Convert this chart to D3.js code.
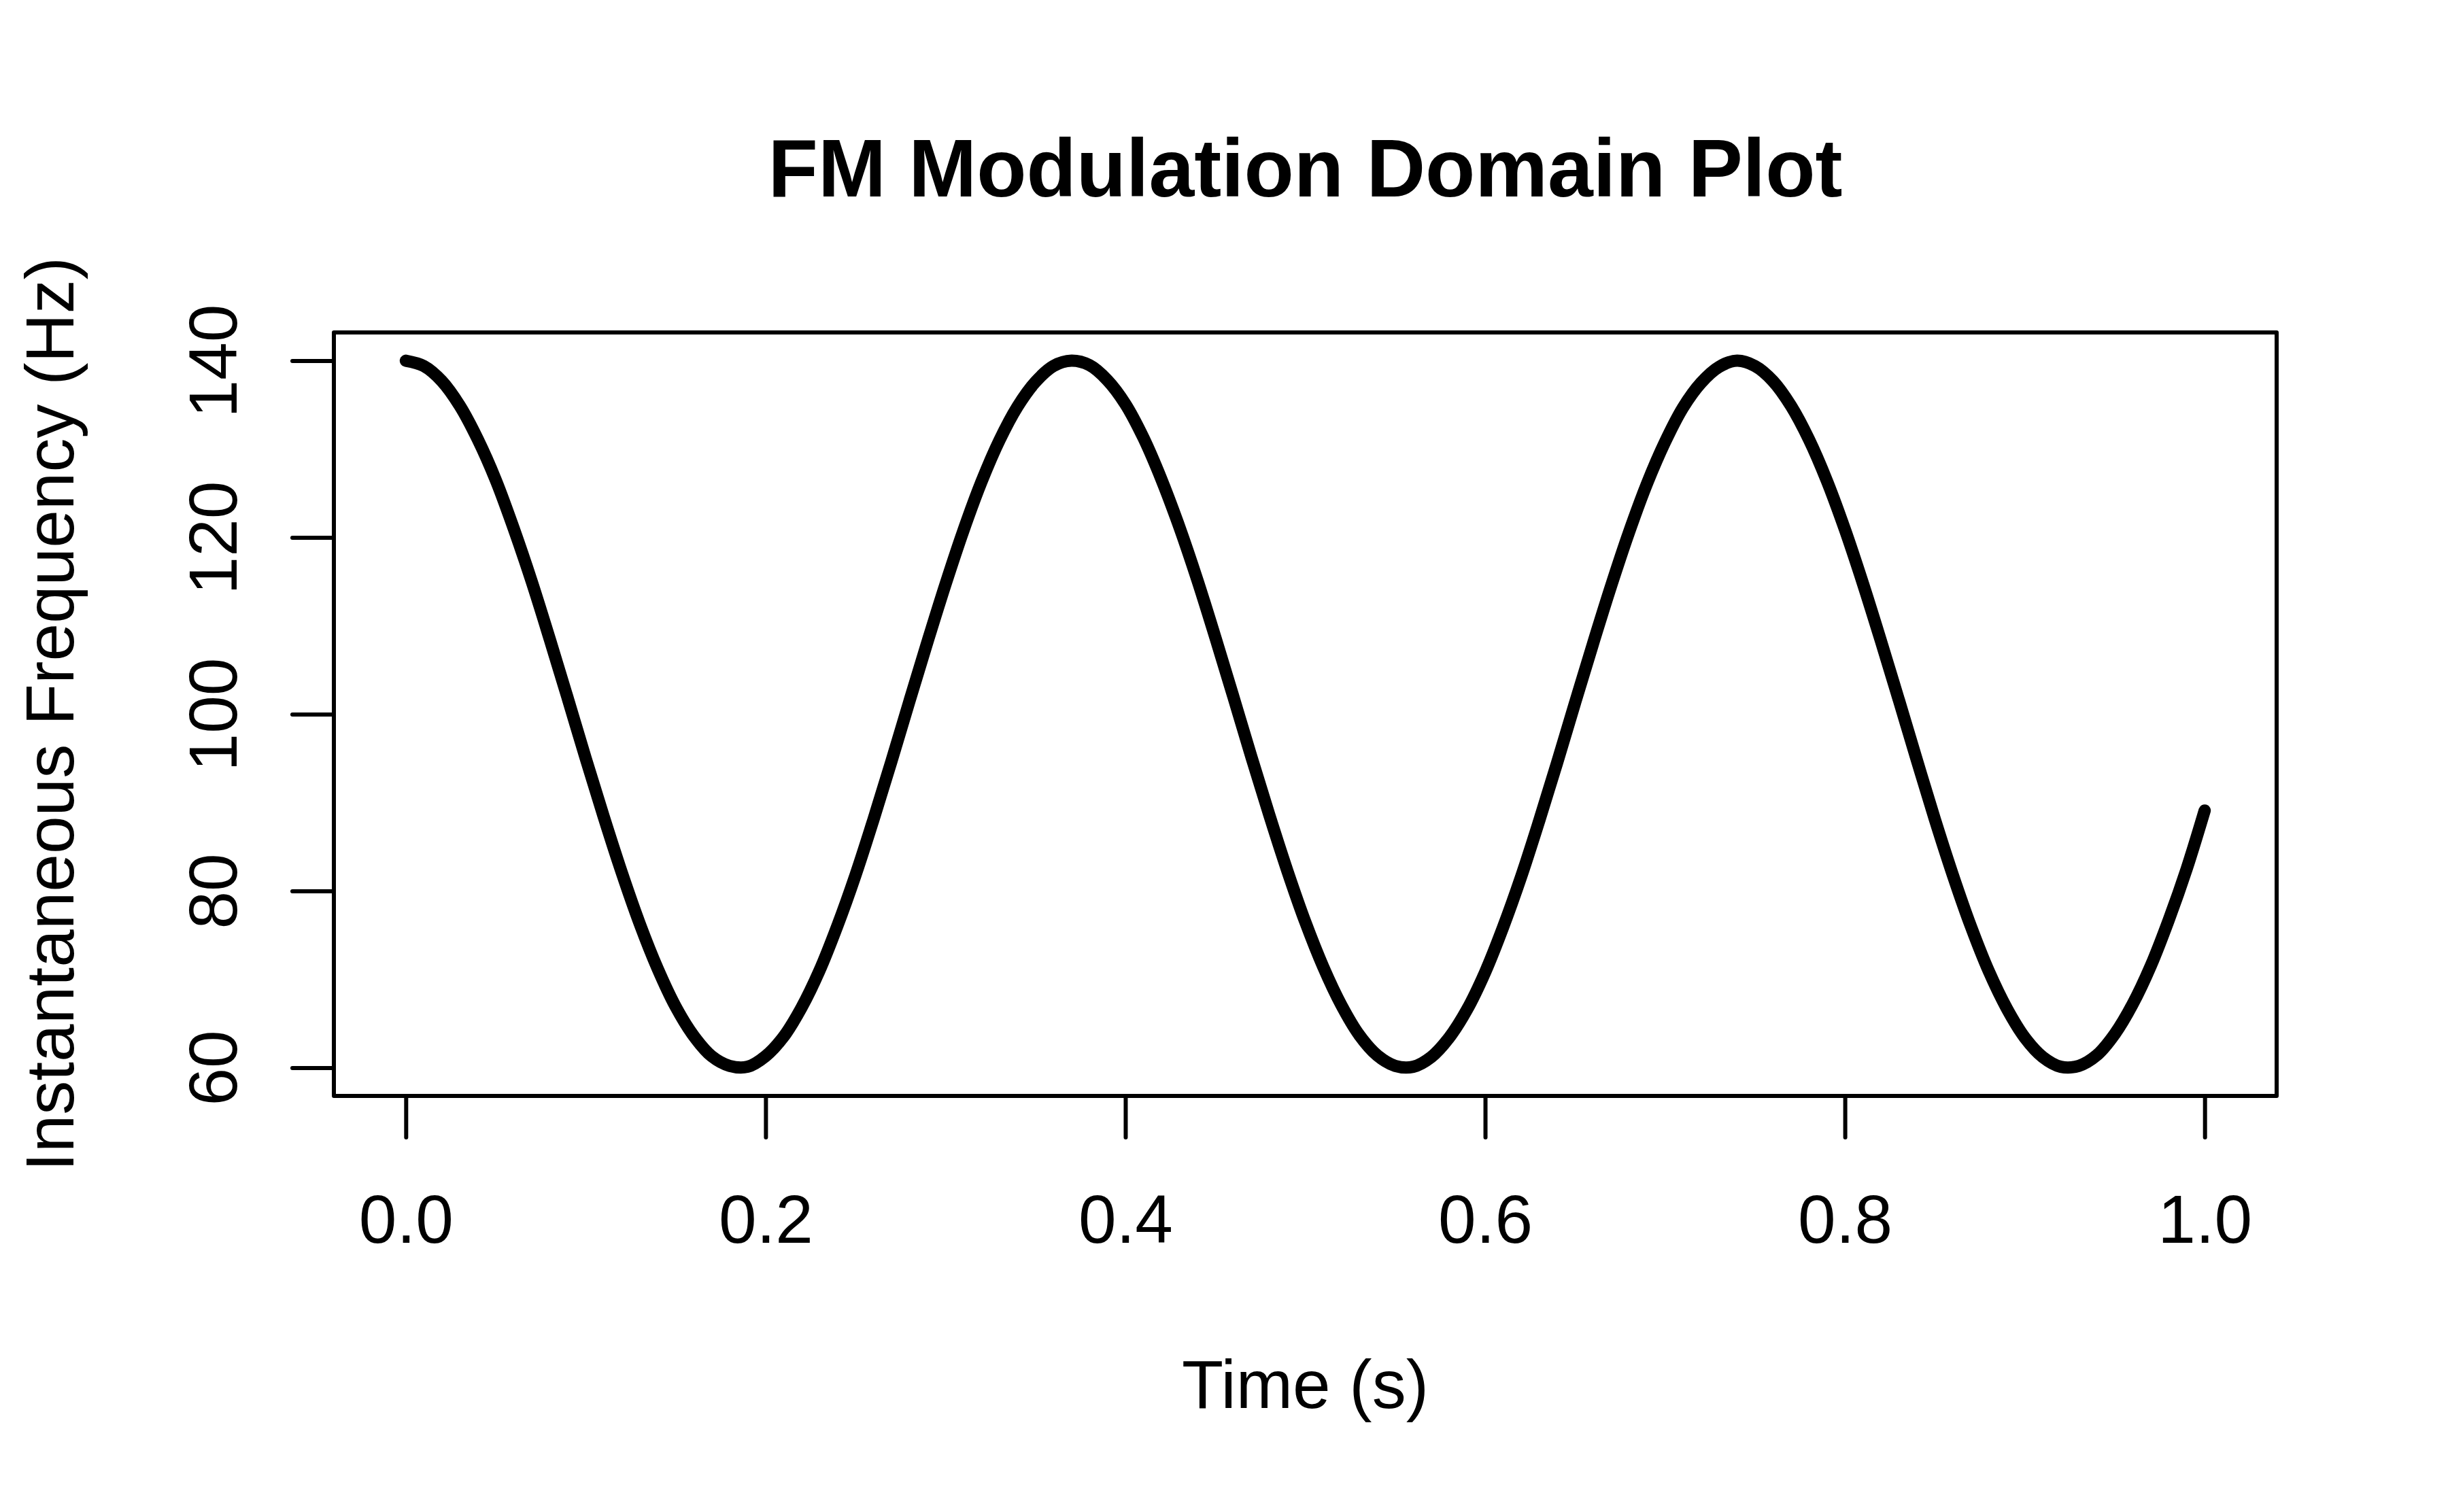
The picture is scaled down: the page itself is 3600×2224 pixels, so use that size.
<!DOCTYPE html>
<html>
<head>
<meta charset="utf-8">
<script src="https://cdn.jsdelivr.net/npm/d3@7"></script>
<style>
  html, body { margin: 0; padding: 0; background: #fff; }
  svg { display: block; }
  text { font-family: "Liberation Sans", Arial, sans-serif; fill: #000; }
</style>
</head>
<body>
<svg id="chart" width="3600" height="2224"></svg>
<script>
// ---- data ----
const times = [
  0.00,0.01,0.02,0.03,0.04,0.05,0.06,0.07,0.08,0.09,
  0.10,0.11,0.12,0.13,0.14,0.15,0.16,0.17,0.18,0.19,
  0.20,0.21,0.22,0.23,0.24,0.25,0.26,0.27,0.28,0.29,
  0.30,0.31,0.32,0.33,0.34,0.35,0.36,0.37,0.38,0.39,
  0.40,0.41,0.42,0.43,0.44,0.45,0.46,0.47,0.48,0.49,
  0.50,0.51,0.52,0.53,0.54,0.55,0.56,0.57,0.58,0.59,
  0.60,0.61,0.62,0.63,0.64,0.65,0.66,0.67,0.68,0.69,
  0.70,0.71,0.72,0.73,0.74,0.75,0.76,0.77,0.78,0.79,
  0.80,0.81,0.82,0.83,0.84,0.85,0.86,0.87,0.88,0.89,
  0.90,0.91,0.92,0.93,0.94,0.95,0.96,0.97,0.98,0.99,
  1.00
];
const frequency = [
  140.0,139.4,137.7,134.9,131.1,126.5,121.0,115.0,108.5,101.8,
  95.0,88.4,82.1,76.3,71.2,66.9,63.6,61.3,60.2,60.1,
  61.3,63.5,66.8,71.0,76.1,81.8,88.1,94.7,101.5,108.2,
  114.7,120.8,126.3,131.0,134.8,137.6,139.4,140.0,139.5,137.8,
  135.1,131.3,126.6,121.2,115.2,108.7,102.0,95.2,88.6,82.3,
  76.5,71.4,67.1,63.7,61.4,60.2,60.1,61.2,63.4,66.6,
  70.8,75.9,81.6,87.9,94.5,101.3,108.0,114.5,120.6,126.1,
  130.8,134.7,137.5,139.3,140.0,139.4,137.7,134.9,131.1,126.4,
  120.9,114.8,108.3,101.6,94.8,88.1,81.8,76.0,70.9,66.7,
  63.4,61.2,60.1,60.2,61.4,63.8,67.2,71.5,76.7,82.5,
  89.1
];
const xTicks = [0.0, 0.2, 0.4, 0.6, 0.8, 1.0];
const yTicks = [60, 80, 100, 120, 140];
const titleText = "FM Modulation Domain Plot";
const xLabel = "Time (s)";
const yLabel = "Instantaneous Frequency (Hz)";

// ---- layout ----
const box = { left: 491, right: 3348, top: 489, bottom: 1612 };
const svg = d3.select("#chart");

const x = d3.scaleLinear().domain([-0.04, 1.04]).range([box.left, box.right]);
const y = d3.scaleLinear().domain([56.8, 143.2]).range([box.bottom, box.top]);

// plot box
svg.append("rect")
  .attr("x", box.left).attr("y", box.top)
  .attr("width", box.right - box.left).attr("height", box.bottom - box.top)
  .attr("fill", "none").attr("stroke", "#000").attr("stroke-width", 6)
  .attr("stroke-linejoin", "round");

// x axis
const xAxis = d3.axisBottom(x).tickValues(xTicks).tickSize(61).tickPadding(0)
  .tickFormat(d3.format(".1f"));
const gx = svg.append("g").attr("transform", `translate(0,${box.bottom})`).call(xAxis);
gx.select(".domain").remove();
gx.selectAll(".tick line").attr("stroke", "#000").attr("stroke-width", 6).attr("stroke-linecap", "round");
gx.selectAll(".tick text")
  .attr("y", 216).attr("dy", null)
  .attr("font-size", 100).attr("font-family", "Liberation Sans, Arial, sans-serif")
  .attr("text-anchor", "middle").attr("fill", "#000");

// y axis
const yAxis = d3.axisLeft(y).tickValues(yTicks).tickSize(61).tickPadding(0);
const gy = svg.append("g").attr("transform", `translate(${box.left},0)`).call(yAxis);
gy.select(".domain").remove();
gy.selectAll(".tick line").attr("stroke", "#000").attr("stroke-width", 6).attr("stroke-linecap", "round");
gy.selectAll(".tick text")
  .attr("x", null).attr("dy", null)
  .attr("transform", `translate(${348 - box.left},0) rotate(-90)`)
  .attr("text-anchor", "middle")
  .attr("font-size", 100).attr("font-family", "Liberation Sans, Arial, sans-serif")
  .attr("fill", "#000");

// curve
const pts = times.map((t, i) => [t, frequency[i]]);
const line = d3.line()
  .x(d => x(d[0])).y(d => y(d[1]))
  .curve(d3.curveCatmullRom.alpha(0.5));
svg.append("path")
  .datum(pts)
  .attr("d", line)
  .attr("fill", "none").attr("stroke", "#000").attr("stroke-width", 18)
  .attr("stroke-linecap", "round").attr("stroke-linejoin", "round");

// title
svg.append("text")
  .attr("x", (box.left + box.right) / 2).attr("y", 289)
  .attr("text-anchor", "middle").attr("font-size", 120).attr("font-weight", "bold")
  .text(titleText);

// x label
svg.append("text")
  .attr("x", (box.left + box.right) / 2).attr("y", 2071)
  .attr("text-anchor", "middle").attr("font-size", 100)
  .text(xLabel);

// y label
svg.append("text")
  .attr("transform", `translate(108,${(box.top + box.bottom) / 2}) rotate(-90)`)
  .attr("text-anchor", "middle").attr("font-size", 100)
  .text(yLabel);
</script>
</body>
</html>
